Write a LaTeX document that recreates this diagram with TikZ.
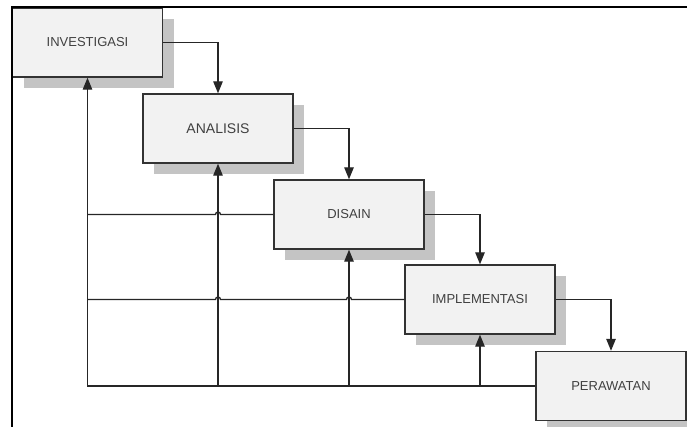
\documentclass[tikz,border=0pt]{standalone}
\usepackage{fontspec}
\setmainfont{Liberation Sans}
\usetikzlibrary{arrows.meta,shadows}
\definecolor{boxfill}{HTML}{F2F2F2}
\definecolor{boxline}{HTML}{333333}
\definecolor{shade}{HTML}{C4C4C4}
\definecolor{labelgray}{HTML}{404040}

\begin{document}
\begin{tikzpicture}[x=1pt, y=-1pt,
		phase/.style={shape=rectangle, draw=boxline, line width=1.4pt, fill=boxfill,
			minimum width=150pt, minimum height=69pt, inner sep=0pt,
			text=labelgray, font=\fontsize{13}{15}\selectfont,
			drop shadow={shadow xshift=11pt, shadow yshift=-11pt, fill=shade, opacity=1}},
		flow/.style={draw=black!85, line width=1.3pt, -{Triangle[length=12pt, width=9.5pt]}},
		link/.style={draw=black!85, line width=1.3pt}]
			\useasboundingbox (0,0) rectangle (687,427);
			\coordinate (inv pos) at (87.5, 42.5);
			\coordinate (ana pos) at (218, 128.5);
			\coordinate (dis pos) at (349, 214.5);
			\coordinate (imp pos) at (480, 299.5);
			\coordinate (per pos) at (611, 386);
			\node at (inv pos) [phase] (inv) {INVESTIGASI};
			\node at (ana pos) [phase, font=\fontsize{14}{16}\selectfont] (ana) {ANALISIS};
			\node at (dis pos) [phase] (dis) {DISAIN};
			\node at (imp pos) [phase] (imp) {IMPLEMENTASI};
			\node at (per pos) [phase] (per) {PERAWATAN};
			% frame
			\draw[line width=2.2pt] (12,427) -- (12,7) -- (687,7);
			% forward steps
			\draw[flow] (inv.east) -| (ana.north);
			\draw[flow] (ana.east) -| (dis.north);
			\draw[flow] (dis.east) -| (imp.north);
			\draw[flow] (imp.east) -| (per.north);
			% feedback
			\coordinate (foot ana) at (ana.south |- per.west);
			\coordinate (foot dis) at (dis.south |- per.west);
			\coordinate (foot imp) at (imp.south |- per.west);
			\coordinate (hop a1) at (ana.south |- dis.west);
			\coordinate (hop a2) at (ana.south |- imp.west);
			\coordinate (hop d2) at (dis.south |- imp.west);
			\draw[flow] (per.west) -| (inv.south);
			\draw[flow] (foot ana) -- (ana.south);
			\draw[flow] (foot dis) -- (dis.south);
			\draw[flow] (foot imp) -- (imp.south);
			\draw[link] (inv.south |- dis.west) -- ([xshift=-2.5pt]hop a1)
				arc[start angle=180, end angle=0, radius=2.5pt] -- (dis.west);
			\draw[link] (inv.south |- imp.west) -- ([xshift=-2.5pt]hop a2)
				arc[start angle=180, end angle=0, radius=2.5pt] -- ([xshift=-2.5pt]hop d2)
				arc[start angle=180, end angle=0, radius=2.5pt] -- (imp.west);
		\end{tikzpicture}
\end{document}
